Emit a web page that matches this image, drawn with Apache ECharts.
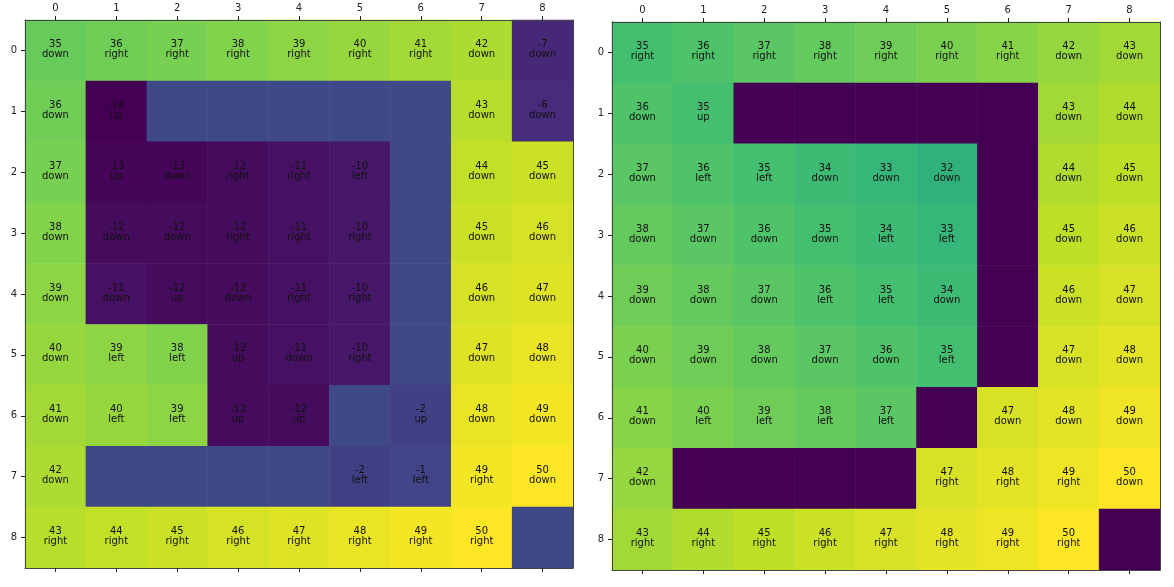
<!DOCTYPE html>
<html>
<head>
<meta charset="utf-8">
<script src="https://cdn.jsdelivr.net/npm/echarts@6/dist/echarts.min.js"></script>
<style>
  html, body { margin: 0; padding: 0; background: #fff; }
  #main { width: 1174px; height: 587px; }
</style>
</head>
<body>
<div id="main"></div>
<script type="text/javascript">
// tick labels (same on both axes)
var ticks = ['0', '1', '2', '3', '4', '5', '6', '7', '8'];

// left map: values per cell, walls are 0 with no direction
var leftValues = [
    [35, 36, 37, 38, 39, 40, 41, 42, -7],
    [36, -14, 0, 0, 0, 0, 0, 43, -6],
    [37, -13, -13, -12, -11, -10, 0, 44, 45],
    [38, -12, -12, -12, -11, -10, 0, 45, 46],
    [39, -11, -12, -12, -11, -10, 0, 46, 47],
    [40, 39, 38, -12, -11, -10, 0, 47, 48],
    [41, 40, 39, -12, -12, 0, -2, 48, 49],
    [42, 0, 0, 0, 0, -2, -1, 49, 50],
    [43, 44, 45, 46, 47, 48, 49, 50, 0]
];
var leftDirs = [
    ['down', 'right', 'right', 'right', 'right', 'right', 'right', 'down', 'down'],
    ['down', 'up', '', '', '', '', '', 'down', 'down'],
    ['down', 'up', 'down', 'right', 'right', 'left', '', 'down', 'down'],
    ['down', 'down', 'down', 'right', 'right', 'right', '', 'down', 'down'],
    ['down', 'down', 'up', 'down', 'right', 'right', '', 'down', 'down'],
    ['down', 'left', 'left', 'up', 'down', 'right', '', 'down', 'down'],
    ['down', 'left', 'left', 'up', 'up', '', 'up', 'down', 'down'],
    ['down', '', '', '', '', 'left', 'left', 'right', 'down'],
    ['right', 'right', 'right', 'right', 'right', 'right', 'right', 'right', '']
];

// right map
var rightValues = [
    [35, 36, 37, 38, 39, 40, 41, 42, 43],
    [36, 35, 0, 0, 0, 0, 0, 43, 44],
    [37, 36, 35, 34, 33, 32, 0, 44, 45],
    [38, 37, 36, 35, 34, 33, 0, 45, 46],
    [39, 38, 37, 36, 35, 34, 0, 46, 47],
    [40, 39, 38, 37, 36, 35, 0, 47, 48],
    [41, 40, 39, 38, 37, 0, 47, 48, 49],
    [42, 0, 0, 0, 0, 47, 48, 49, 50],
    [43, 44, 45, 46, 47, 48, 49, 50, 0]
];
var rightDirs = [
    ['right', 'right', 'right', 'right', 'right', 'right', 'right', 'down', 'down'],
    ['down', 'up', '', '', '', '', '', 'down', 'down'],
    ['down', 'left', 'left', 'down', 'down', 'down', '', 'down', 'down'],
    ['down', 'down', 'down', 'down', 'left', 'left', '', 'down', 'down'],
    ['down', 'down', 'down', 'left', 'left', 'down', '', 'down', 'down'],
    ['down', 'down', 'down', 'down', 'down', 'left', '', 'down', 'down'],
    ['down', 'left', 'left', 'left', 'left', '', 'down', 'down', 'down'],
    ['down', '', '', '', '', 'right', 'right', 'right', 'down'],
    ['right', 'right', 'right', 'right', 'right', 'right', 'right', 'right', '']
];

var viridis = ['#440154', '#482475', '#414487', '#355f8d', '#2a788e', '#21918c',
               '#22a884', '#44bf70', '#7ad151', '#bddf26', '#fde725'];

function toCells(values, dirs) {
    var out = [];
    for (var r = 0; r < values.length; r++) {
        for (var c = 0; c < values[r].length; c++) {
            out.push({ value: [c, r, values[r][c]], dir: dirs[r][c] });
        }
    }
    return out;
}

var font = 'DejaVu Sans';
var spine = { show: true, lineStyle: { color: '#444', width: 1 } };

function topAxis(g) {
    return {
        type: 'category', gridIndex: g, position: 'top', data: ticks, z: 10,
        axisLine: spine,
        axisTick: { show: true, alignWithLabel: true, length: 4, lineStyle: { color: '#222' } },
        axisLabel: { color: '#222', fontSize: 10, fontFamily: font, margin: 7 },
        splitLine: { show: false }
    };
}
function bottomAxis(g) {
    return {
        type: 'category', gridIndex: g, position: 'bottom', data: ticks, z: 10,
        axisLine: spine,
        axisTick: { show: true, alignWithLabel: true, length: 4, lineStyle: { color: '#222' } },
        axisLabel: { show: false },
        splitLine: { show: false }
    };
}
function leftAxis(g) {
    return {
        type: 'category', gridIndex: g, position: 'left', data: ticks, inverse: true, z: 10,
        axisLine: spine,
        axisTick: { show: true, alignWithLabel: true, length: 4, lineStyle: { color: '#222' } },
        axisLabel: { color: '#222', fontSize: 10, fontFamily: font, margin: 8 },
        splitLine: { show: false }
    };
}
function rightAxis(g) {
    return {
        type: 'category', gridIndex: g, position: 'right', data: ticks, inverse: true, z: 10,
        axisLine: spine,
        axisTick: { show: false },
        axisLabel: { show: false },
        splitLine: { show: false }
    };
}

function cellLabel(p) {
    if (!p.data.dir) return '';
    return p.data.value[2] + '\n' + p.data.dir;
}

function mapSeries(cells, xi, yi) {
    return {
        type: 'heatmap', xAxisIndex: xi, yAxisIndex: yi, data: cells,
        label: { show: true, formatter: cellLabel, color: '#111', fontSize: 10,
                 fontFamily: font, lineHeight: 10, offset: [0, -1] },
        itemStyle: { borderWidth: 0 },
        emphasis: { disabled: true }
    };
}

var myChart = echarts.init(document.getElementById('main'));
var option = {
    animation: false,
    grid: [
        { left: 25, top: 20, width: 548, height: 548 },
        { left: 612, top: 22, width: 548, height: 548 }
    ],
    xAxis: [topAxis(0), bottomAxis(0), topAxis(1), bottomAxis(1)],
    yAxis: [leftAxis(0), rightAxis(0), leftAxis(1), rightAxis(1)],
    visualMap: [
        { type: 'continuous', show: false, seriesIndex: 0, min: -14, max: 50, dimension: 2,
          inRange: { color: viridis } },
        { type: 'continuous', show: false, seriesIndex: 1, min: 0, max: 50, dimension: 2,
          inRange: { color: viridis } }
    ],
    series: [
        mapSeries(toCells(leftValues, leftDirs), 0, 0),
        mapSeries(toCells(rightValues, rightDirs), 2, 2)
    ]
};
myChart.setOption(option);
</script>
</body>
</html>
